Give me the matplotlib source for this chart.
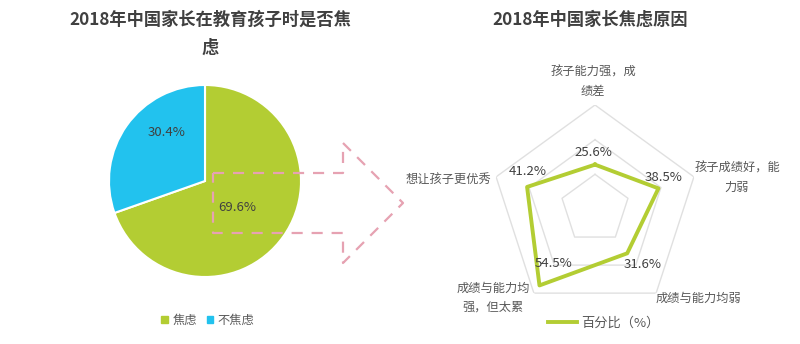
import numpy as np
import matplotlib
matplotlib.use("Agg")
import matplotlib.pyplot as plt
from matplotlib.patches import Patch
from matplotlib.lines import Line2D

plt.rcParams['font.family'] = ['Noto Sans CJK SC', 'DejaVu Sans']

# data
pie_labels = ['焦虑', '不焦虑']
pie_values = [69.6, 30.4]
radar_cats = ['孩子能力强，成\n绩差', '孩子成绩好，能\n力弱', '成绩与能力均弱',
              '成绩与能力均\n强，但太累', '想让孩子更优秀']
radar_values = [25.6, 38.5, 31.6, 54.5, 41.2]
radar_grid = [20, 40, 60]

green = '#b3cd33'
blue = '#22c2ee'
txt = '#404040'
W, H = 800, 344

fig = plt.figure(figsize=(8, 3.44), dpi=100)

def px_box(cx, cy, r):
    return [(cx - r) / W, (H - cy - r) / H, 2 * r / W, 2 * r / H]

# pie
ax1 = fig.add_axes(px_box(205, 181, 96))
wedges, _ = ax1.pie(pie_values, colors=[green, blue], startangle=90, counterclock=False,
                    wedgeprops=dict(edgecolor='white', linewidth=1.5), radius=1)
ax1.set_xlim(-1, 1)
ax1.set_ylim(-1, 1)
ax1.text(0.34, -0.28, '%.1f%%' % pie_values[0], ha='center', va='center', fontsize=9.5, color=txt)
ax1.text(-0.40, 0.50, '%.1f%%' % pie_values[1], ha='center', va='center', fontsize=9.5, color=txt)

# radar
ax2 = fig.add_axes(px_box(595, 209, 104), projection='polar')
ax2.set_theta_offset(np.pi / 2)
ax2.set_theta_direction(-1)
ax2.set_ylim(0, 60)
ax2.grid(False)
ax2.spines['polar'].set_visible(False)
ax2.set_xticks([])
ax2.set_yticks([])
ax2.patch.set_alpha(0)
theta = np.linspace(0, 2 * np.pi, len(radar_values), endpoint=False)
th_closed = np.append(theta, theta[0])
for g in radar_grid:
    ax2.plot(th_closed, [g] * len(th_closed), color='#e0e0e0', lw=1, zorder=1)
vals = radar_values + radar_values[:1]
ax2.plot(th_closed, vals, color=green, lw=2.8, zorder=3, clip_on=False)
lab_off = [(-2, 12), (5, 11), (15, -11), (14, 22), (1, 15)]
for t, v, off in zip(theta, radar_values, lab_off):
    ax2.annotate('%.1f%%' % v, (t, v), xytext=off, textcoords='offset pixels',
                 ha='center', va='center', fontsize=9.5, color=txt, zorder=4)

# overlay for titles, arrow, category labels
ov = fig.add_axes([0, 0, 1, 1], zorder=5)
ov.set_xlim(0, W)
ov.set_ylim(H, 0)
ov.axis('off')
ov.patch.set_alpha(0)

ov.text(210, 20, '2018年中国家长在教育孩子时是否焦', ha='center', va='center',
        fontsize=12.4, fontweight='bold', color=txt)
ov.text(210, 48, '虑', ha='center', va='center', fontsize=12.4, fontweight='bold', color=txt)
ov.text(590, 20, '2018年中国家长焦虑原因', ha='center', va='center',
        fontsize=12.4, fontweight='bold', color=txt)

arrow_x = [213, 343, 343, 403, 343, 343, 213, 213]
arrow_y = [173, 173, 143, 203, 263, 233, 233, 173]
ov.plot(arrow_x, arrow_y, color='#e6a2b2', lw=1.6, ls=(0, (5, 4)))

cat_pos = [(593, 82, 'center'), (737, 178, 'center'), (698, 298, 'center'),
           (493, 298, 'center'), (448, 180, 'center')]
for c, (x, y, ha) in zip(radar_cats, cat_pos):
    ov.text(x, y, c, ha=ha, va='center', fontsize=8.8, color='#595959', linespacing=1.6)

# legends
fig.legend(handles=[Patch(color=green, label=pie_labels[0]), Patch(color=blue, label=pie_labels[1])],
           loc='center', bbox_to_anchor=(208 / W, 1 - 320 / H), ncol=2, frameon=False,
           fontsize=8.8, handlelength=0.5, handleheight=0.5, handletextpad=0.4,
           columnspacing=0.8, labelcolor='#595959')
fig.legend(handles=[Line2D([], [], color=green, lw=2.8, label='百分比（%）')],
           loc='center', bbox_to_anchor=(604 / W, 1 - 323 / H), frameon=False,
           fontsize=9.5, handlelength=2.2, handletextpad=0.3, labelcolor='#595959')

fig.savefig('out.png', dpi=100, facecolor='white')
